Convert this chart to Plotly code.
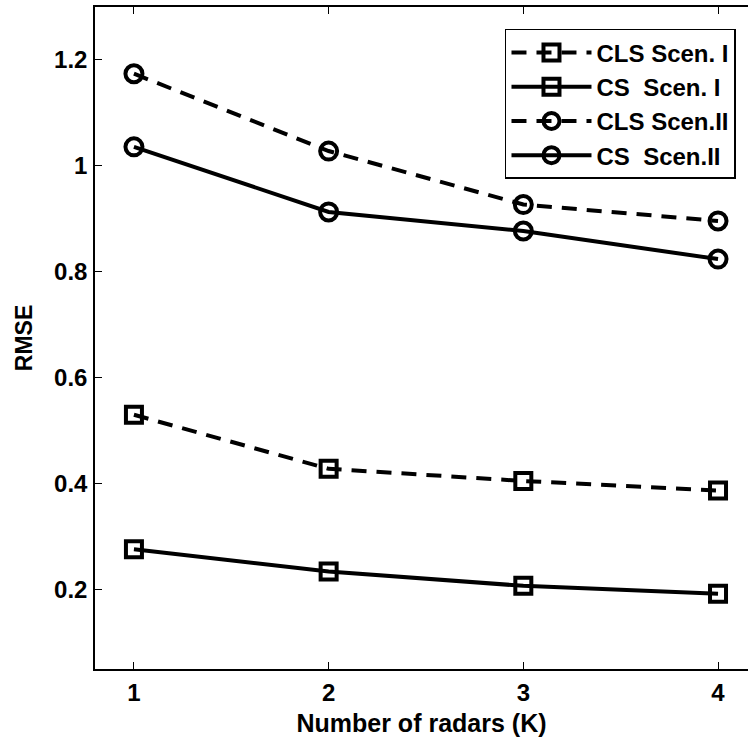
import plotly.graph_objects as go

k_values = [1, 2, 3, 4]
cls_scen1 = [0.530, 0.428, 0.405, 0.387]
cs_scen1 = [0.276, 0.234, 0.207, 0.192]
cls_scen2 = [1.174, 1.028, 0.927, 0.896]
cs_scen2 = [1.036, 0.913, 0.877, 0.824]

series_names = ["CLS Scen. I", "CS  Scen. I", "CLS Scen.II", "CS  Scen.II"]
y_tickvals = [0.2, 0.4, 0.6, 0.8, 1.0, 1.2]
y_ticktext = ["0.2", "0.4", "0.6", "0.8", "1", "1.2"]
x_tickvals = [1, 2, 3, 4]

FONT = "Liberation Sans, Arial, Helvetica, sans-serif"
DASH = "15px,10px"

series = [
    (series_names[0], cls_scen1, DASH, "square-open", 16),
    (series_names[1], cs_scen1, "solid", "square-open", 16),
    (series_names[2], cls_scen2, DASH, "circle-open", 17),
    (series_names[3], cs_scen2, "solid", "circle-open", 17),
]

fig = go.Figure()
for name, vals, dash, sym, msize in series:
    fig.add_trace(go.Scatter(
        x=k_values, y=vals, name=name, mode="lines+markers",
        line=dict(color="black", width=4, dash=dash),
        marker=dict(symbol=sym, size=msize, color="black",
                    line=dict(color="black", width=4)),
    ))

fig.update_layout(
    width=748, height=740,
    margin=dict(l=95, r=0, t=7, b=71),
    paper_bgcolor="white", plot_bgcolor="white",
    font=dict(family=FONT, size=24, color="black", weight="bold"),
    showlegend=True,
    legend=dict(
        x=0.9816, y=0.9668, xanchor="right", yanchor="top",
        bgcolor="white", bordercolor="black", borderwidth=1.5,
        font=dict(family=FONT, size=24, color="black", weight="bold"),
        itemwidth=80, tracegroupgap=0,
    ),
    xaxis=dict(
        range=[0.8, 4.154], tickvals=x_tickvals,
        ticks="inside", ticklen=7, tickwidth=1, tickcolor="black",
        showline=True, linecolor="black", linewidth=1.5, mirror="ticks",
        showgrid=False, zeroline=False,
        ticklabelstandoff=1,
        tickfont=dict(family=FONT, size=24, weight="bold"),
        title=dict(text="Number of radars (K)", standoff=10,
                   font=dict(family=FONT, size=25, weight="bold")),
    ),
    yaxis=dict(
        range=[0.05, 1.3], tickvals=y_tickvals, ticktext=y_ticktext,
        ticks="inside", ticklen=7, tickwidth=1, tickcolor="black",
        showline=True, linecolor="black", linewidth=1.5, mirror=False,
        showgrid=False, zeroline=False,
        ticklabelstandoff=1,
        tickfont=dict(family=FONT, size=24, weight="bold"),
        title=dict(text="RMSE", standoff=15,
                   font=dict(family=FONT, size=23, weight="bold")),
    ),
)

fig.write_html("out.html")
